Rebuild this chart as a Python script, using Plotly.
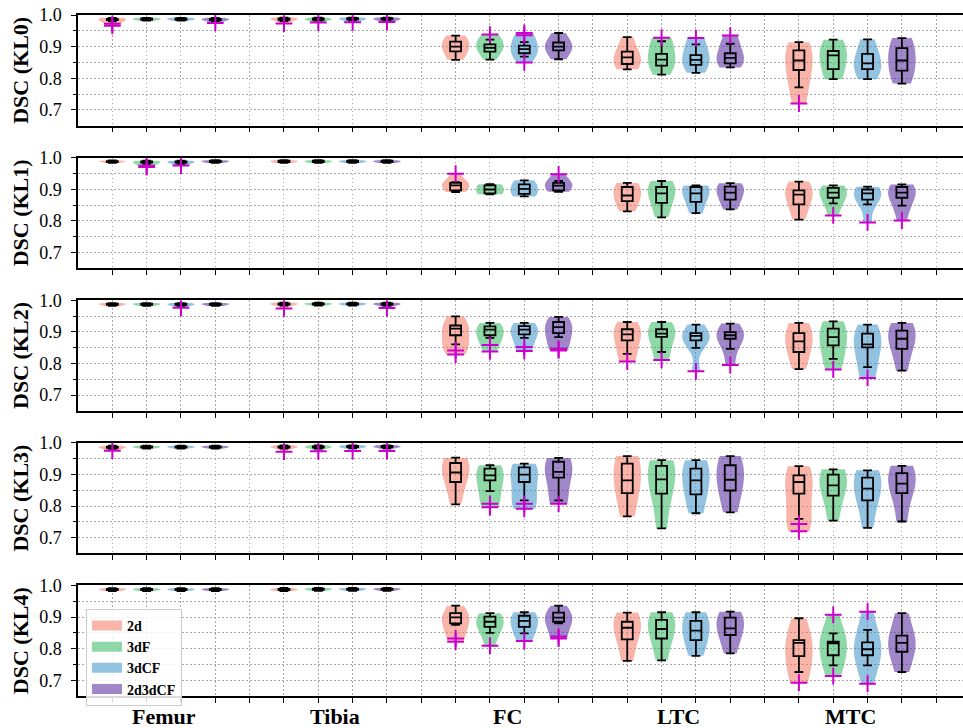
import plotly.graph_objects as go
from plotly.subplots import make_subplots

structures = ["Femur", "Tibia", "FC", "LTC", "MTC"]
methods = ["2d", "3dF", "3dCF", "2d3dCF"]
grades = ["KL0", "KL1", "KL2", "KL3", "KL4"]

# je Gruppe: [unterer Whisker, Q1, Median, Q3, oberer Whisker]
# Reihenfolge: Femur(2d, 3dF, 3dCF, 2d3dCF), Tibia(...), FC, LTC, MTC
kl0_stats = [
    [0.980, 0.984, 0.986, 0.988, 0.991], [0.982, 0.985, 0.987, 0.989, 0.991],
    [0.982, 0.985, 0.987, 0.989, 0.991], [0.981, 0.984, 0.986, 0.988, 0.991],
    [0.981, 0.985, 0.987, 0.989, 0.992], [0.982, 0.985, 0.987, 0.989, 0.992],
    [0.982, 0.986, 0.988, 0.990, 0.992], [0.982, 0.986, 0.988, 0.990, 0.992],
    [0.858, 0.885, 0.900, 0.916, 0.935], [0.859, 0.884, 0.896, 0.907, 0.922],
    [0.868, 0.879, 0.892, 0.903, 0.914], [0.860, 0.888, 0.900, 0.913, 0.943],
    [0.828, 0.845, 0.866, 0.884, 0.930], [0.811, 0.840, 0.859, 0.877, 0.917],
    [0.817, 0.842, 0.858, 0.873, 0.907], [0.834, 0.847, 0.864, 0.879, 0.909],
    [0.771, 0.826, 0.856, 0.888, 0.914], [0.797, 0.829, 0.872, 0.886, 0.922],
    [0.797, 0.829, 0.847, 0.877, 0.923], [0.783, 0.824, 0.856, 0.895, 0.927],
]
kl0_outliers = [
    [0.972, 0.966], [], [], [0.975],
    [0.973], [0.976], [0.977], [0.978],
    [], [0.938], [0.943, 0.936, 0.850], [],
    [], [0.928], [0.927], [0.935],
    [0.720], [], [], [],
]

kl1_stats = [
    [0.983, 0.986, 0.988, 0.989, 0.991], [0.980, 0.984, 0.986, 0.988, 0.990],
    [0.980, 0.984, 0.986, 0.988, 0.990], [0.983, 0.986, 0.988, 0.990, 0.992],
    [0.983, 0.986, 0.988, 0.990, 0.992], [0.983, 0.986, 0.988, 0.990, 0.992],
    [0.983, 0.986, 0.988, 0.990, 0.992], [0.983, 0.986, 0.988, 0.990, 0.992],
    [0.891, 0.896, 0.912, 0.920, 0.922], [0.884, 0.887, 0.899, 0.912, 0.916],
    [0.877, 0.885, 0.901, 0.915, 0.928], [0.892, 0.896, 0.911, 0.920, 0.926],
    [0.830, 0.862, 0.880, 0.907, 0.920], [0.811, 0.857, 0.887, 0.907, 0.926],
    [0.824, 0.860, 0.887, 0.907, 0.912], [0.836, 0.867, 0.889, 0.908, 0.919],
    [0.804, 0.852, 0.883, 0.896, 0.924], [0.855, 0.873, 0.889, 0.904, 0.912],
    [0.852, 0.867, 0.887, 0.899, 0.908], [0.848, 0.873, 0.889, 0.907, 0.915],
]
kl1_outliers = [
    [], [0.974, 0.970], [0.975], [],
    [], [], [], [],
    [0.949], [], [], [0.947],
    [], [], [], [],
    [], [0.817], [0.795], [0.801],
]

kl2_stats = [
    [0.982, 0.985, 0.987, 0.989, 0.991], [0.982, 0.985, 0.987, 0.989, 0.991],
    [0.982, 0.985, 0.987, 0.989, 0.991], [0.982, 0.985, 0.987, 0.989, 0.991],
    [0.983, 0.986, 0.988, 0.990, 0.992], [0.983, 0.986, 0.988, 0.990, 0.992],
    [0.983, 0.986, 0.988, 0.990, 0.992], [0.983, 0.986, 0.988, 0.990, 0.992],
    [0.860, 0.889, 0.910, 0.920, 0.949], [0.881, 0.889, 0.907, 0.917, 0.928],
    [0.881, 0.892, 0.907, 0.918, 0.928], [0.883, 0.896, 0.915, 0.931, 0.947],
    [0.830, 0.873, 0.892, 0.908, 0.931], [0.836, 0.884, 0.894, 0.908, 0.931],
    [0.849, 0.873, 0.887, 0.896, 0.923], [0.846, 0.878, 0.889, 0.899, 0.926],
    [0.782, 0.836, 0.870, 0.896, 0.928], [0.814, 0.857, 0.883, 0.910, 0.933],
    [0.788, 0.851, 0.860, 0.894, 0.923], [0.777, 0.846, 0.878, 0.904, 0.928],
]
kl2_outliers = [
    [], [], [0.976], [],
    [0.974], [], [], [0.975],
    [0.841, 0.828], [0.858, 0.838], [0.852, 0.839], [0.846, 0.841],
    [0.806], [0.811], [0.775], [0.795],
    [], [0.781], [0.754], [],
]

kl3_stats = [
    [0.981, 0.984, 0.986, 0.988, 0.991], [0.982, 0.985, 0.987, 0.989, 0.991],
    [0.982, 0.985, 0.987, 0.989, 0.991], [0.982, 0.985, 0.987, 0.989, 0.991],
    [0.982, 0.985, 0.987, 0.989, 0.992], [0.982, 0.985, 0.987, 0.989, 0.992],
    [0.983, 0.986, 0.988, 0.990, 0.992], [0.983, 0.986, 0.988, 0.990, 0.992],
    [0.805, 0.876, 0.906, 0.936, 0.953], [0.847, 0.881, 0.897, 0.918, 0.929],
    [0.818, 0.876, 0.899, 0.922, 0.934], [0.818, 0.890, 0.908, 0.940, 0.952],
    [0.767, 0.841, 0.881, 0.934, 0.958], [0.729, 0.839, 0.884, 0.927, 0.945],
    [0.777, 0.837, 0.881, 0.918, 0.945], [0.780, 0.849, 0.883, 0.929, 0.958],
    [0.759, 0.839, 0.876, 0.897, 0.926], [0.754, 0.833, 0.865, 0.899, 0.916],
    [0.731, 0.818, 0.855, 0.890, 0.913], [0.751, 0.841, 0.871, 0.904, 0.927],
]
kl3_outliers = [
    [0.975], [], [], [],
    [0.972], [0.973], [0.974], [0.974],
    [], [0.807, 0.796], [0.807, 0.791], [0.807],
    [], [], [], [],
    [0.743, 0.720], [], [], [],
]

kl4_stats = [
    [0.982, 0.985, 0.987, 0.989, 0.991], [0.982, 0.985, 0.987, 0.989, 0.991],
    [0.982, 0.985, 0.987, 0.989, 0.991], [0.982, 0.985, 0.987, 0.989, 0.991],
    [0.982, 0.985, 0.987, 0.989, 0.992], [0.983, 0.986, 0.988, 0.990, 0.992],
    [0.983, 0.986, 0.988, 0.990, 0.992], [0.983, 0.986, 0.988, 0.990, 0.992],
    [0.875, 0.880, 0.899, 0.912, 0.936], [0.850, 0.869, 0.885, 0.901, 0.912],
    [0.848, 0.869, 0.888, 0.904, 0.915], [0.880, 0.885, 0.898, 0.914, 0.936],
    [0.761, 0.829, 0.866, 0.885, 0.914], [0.763, 0.832, 0.862, 0.891, 0.915],
    [0.777, 0.827, 0.857, 0.888, 0.915], [0.785, 0.843, 0.864, 0.898, 0.917],
    [0.726, 0.776, 0.818, 0.827, 0.896], [0.747, 0.779, 0.817, 0.822, 0.848],
    [0.747, 0.779, 0.798, 0.820, 0.859], [0.726, 0.790, 0.818, 0.841, 0.912],
]
kl4_outliers = [
    [], [], [], [],
    [], [], [], [],
    [0.832, 0.822], [0.809], [0.824], [0.838, 0.832],
    [], [], [], [],
    [0.692], [0.907, 0.713], [0.917, 0.689], [],
]

all_stats = [kl0_stats, kl1_stats, kl2_stats, kl3_stats, kl4_stats]
all_outliers = [kl0_outliers, kl1_outliers, kl2_outliers, kl3_outliers, kl4_outliers]

farben = [
    "rgba(246,120,100,0.55)",
    "rgba(50,185,95,0.55)",
    "rgba(60,145,200,0.55)",
    "rgba(95,55,165,0.6)",
]

grid = "#a8a8a8"
punkt = "1.5px,2.5px"

fig = make_subplots(rows=5, cols=1, shared_xaxes=True, vertical_spacing=0.047)

for r in range(5):
    stats = all_stats[r]
    outl = all_outliers[r]
    for m, method in enumerate(methods):
        idx = [s * 4 + m for s in range(5)]
        pos = [1 + s * 5 + m for s in range(5)]

        # jede Violine eigene Skalengruppe -> gleiche Maximalbreite
        for i, p in zip(idx, pos):
            vals = stats[i] + outl[i]
            fig.add_trace(go.Violin(
                x=[p] * len(vals), y=vals,
                width=0.8,
                scalemode="width",
                scalegroup=f"g{r}_{i}",
                spanmode="hard",
                fillcolor=farben[m],
                line=dict(width=0, color=farben[m]),
                points=False,
                name=method,
                showlegend=False,
                hoverinfo="skip",
            ), row=r + 1, col=1)

        # Boxplot darüber
        fig.add_trace(go.Box(
            x=pos,
            lowerfence=[stats[i][0] for i in idx],
            q1=[stats[i][1] for i in idx],
            median=[stats[i][2] for i in idx],
            q3=[stats[i][3] for i in idx],
            upperfence=[stats[i][4] for i in idx],
            orientation="v",
            width=0.32,
            whiskerwidth=0.8,
            fillcolor="rgba(0,0,0,0)",
            line=dict(color="black", width=1.8),
            boxpoints=False,
            showlegend=False,
            hoverinfo="skip",
        ), row=r + 1, col=1)

        # Ausreißer
        ox, oy = [], []
        for i, p in zip(idx, pos):
            for v in outl[i]:
                ox.append(p)
                oy.append(v)
        fig.add_trace(go.Scatter(
            x=ox, y=oy,
            mode="markers",
            marker=dict(symbol="cross-thin", size=12,
                        line=dict(color="#CC00CC", width=2)),
            showlegend=False,
            hoverinfo="skip",
        ), row=r + 1, col=1)

# Legendeneinträge als breite Farbbalken
for m, method in enumerate(methods):
    fig.add_trace(go.Scatter(
        x=[None], y=[None],
        mode="lines",
        line=dict(color=farben[m], width=10),
        name=method,
        showlegend=True,
    ), row=5, col=1)

fig.update_xaxes(
    range=[0, 25.78],
    tickvals=list(range(1, 26)),
    ticktext=[""] * 25,
    ticks="outside",
    ticklen=5,
    tickwidth=1.2,
    tickcolor="black",
    showgrid=True,
    gridcolor=grid,
    griddash=punkt,
    gridwidth=1.2,
    showline=True,
    linecolor="black",
    linewidth=1.5,
    mirror=True,
    zeroline=False,
)

fig.update_yaxes(
    range=[0.65, 1.0],
    tickvals=[0.7, 0.8, 0.9, 1.0],
    ticktext=["0.7", "0.8", "0.9", "1.0"],
    ticks="outside",
    ticklen=5,
    tickwidth=1.2,
    tickcolor="black",
    tickfont=dict(size=18),
    ticklabelstandoff=6,
    showgrid=True,
    gridcolor=grid,
    griddash=punkt,
    gridwidth=1.2,
    minor=dict(
        tickvals=[0.75, 0.85, 0.95],
        ticks="outside",
        ticklen=3,
        tickcolor="black",
        showgrid=True,
        gridcolor=grid,
        griddash=punkt,
        gridwidth=1.2,
    ),
    showline=True,
    linecolor="black",
    linewidth=1.5,
    zeroline=False,
)

for r, g in enumerate(grades):
    fig.update_yaxes(
        title_text=f"<b>DSC ({g})</b>",
        title_font=dict(size=22),
        title_standoff=4,
        row=r + 1, col=1,
    )

for s, name in enumerate(structures):
    fig.add_annotation(
        x=2.5 + 5 * s, y=-0.030,
        xref="x5", yref="paper",
        text=f"<b>{name}</b>",
        showarrow=False,
        font=dict(size=22),
        yanchor="middle",
    )

fig.update_layout(
    width=963,
    height=728,
    margin=dict(l=78, r=0, t=15, b=32),
    plot_bgcolor="white",
    paper_bgcolor="white",
    font=dict(family="Liberation Serif", size=18, color="black"),
    violinmode="overlay",
    boxmode="overlay",
    legend=dict(
        x=0.009, y=0.128,
        xanchor="left", yanchor="top",
        bgcolor="rgba(255,255,255,0.85)",
        bordercolor="#cccccc",
        borderwidth=1,
        font=dict(size=14, weight="bold"),
        tracegroupgap=0,
    ),
)

fig.write_html(
    "out.html",
    config={"displayModeBar": False},
    post_script="document.body.style.margin='0px';",
)
